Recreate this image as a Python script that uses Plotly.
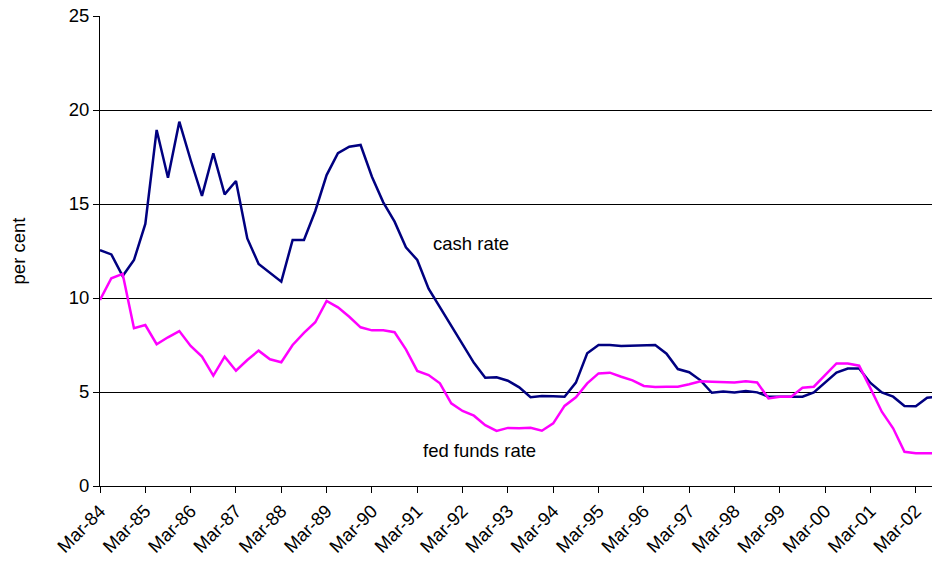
import plotly.graph_objects as go

months = ["Mar", "Jun", "Sep", "Dec"]
quarters = [f"{m}-{y % 100:02d}" for y in range(1984, 2003) for m in months][:75]

cash_rate = [
    12.55, 12.32, 11.17, 12.02, 13.94, 18.94, 16.40, 19.38, 17.34, 15.43,
    17.70, 15.51, 16.22, 13.17, 11.81, 11.35, 10.87, 13.09, 13.09, 14.63,
    16.54, 17.70, 18.05, 18.14, 16.45, 15.09, 14.06, 12.70, 12.02, 10.50,
    9.50, 8.50, 7.50, 6.55, 5.76, 5.78, 5.60, 5.25, 4.72, 4.79,
    4.77, 4.75, 5.50, 7.06, 7.50, 7.50, 7.45, 7.47, 7.50, 7.50,
    7.04, 6.22, 6.05, 5.62, 4.96, 5.02, 4.98, 5.05, 4.98, 4.75,
    4.75, 4.75, 4.75, 4.98, 5.50, 6.03, 6.25, 6.25, 5.48, 4.98,
    4.75, 4.26, 4.24, 4.70, 4.75,
]

fed_funds = [
    9.90, 11.05, 11.28, 8.39, 8.56, 7.54, 7.91, 8.24, 7.45, 6.88,
    5.87, 6.88, 6.13, 6.70, 7.20, 6.74, 6.58, 7.50, 8.15, 8.71,
    9.84, 9.50, 9.00, 8.44, 8.28, 8.28, 8.18, 7.27, 6.12, 5.90,
    5.46, 4.40, 3.99, 3.74, 3.24, 2.93, 3.09, 3.07, 3.10, 2.94,
    3.33, 4.26, 4.72, 5.46, 5.99, 6.03, 5.81, 5.62, 5.32, 5.27,
    5.28, 5.28, 5.41, 5.57, 5.55, 5.51, 5.50, 5.57, 5.51, 4.66,
    4.75, 4.75, 5.23, 5.28, 5.90, 6.52, 6.51, 6.40, 5.19, 3.95,
    3.07, 1.82, 1.74, 1.74, 1.74,
]

tick_labels = quarters[::4]
y_ticks = [0, 5, 10, 15, 20, 25]

FONT = "Liberation Sans, Arial, sans-serif"
FS = 18.5

fig = go.Figure()
fig.add_trace(go.Scatter(x=quarters, y=cash_rate, mode="lines",
                         line=dict(color="#000080", width=2.5), name="cash rate"))
fig.add_trace(go.Scatter(x=quarters, y=fed_funds, mode="lines",
                         line=dict(color="#FF00FF", width=2.5), name="fed funds rate"))

fig.add_annotation(x=32.7, y=12.9, xref="x", yref="y", text="cash rate",
                   showarrow=False, font=dict(family=FONT, size=FS, color="black"))
fig.add_annotation(x=33.5, y=1.9, xref="x", yref="y", text="fed funds rate",
                   showarrow=False, font=dict(family=FONT, size=FS, color="black"))

fig.update_layout(
    width=932, height=561,
    margin=dict(l=100, r=0, t=16, b=75),
    paper_bgcolor="white", plot_bgcolor="white",
    showlegend=False,
    font=dict(family=FONT, size=FS, color="black"),
    xaxis=dict(
        type="category",
        range=[0, 73.43],
        tickmode="array", tickvals=tick_labels, ticktext=tick_labels,
        tickangle=-45,
        ticks="outside", ticklen=6, tickcolor="black", tickwidth=1,
        showgrid=False, showline=True, linecolor="black", linewidth=1,
        zeroline=False,
        tickfont=dict(family=FONT, size=FS, color="black"),
    ),
    yaxis=dict(
        range=[0, 25],
        tickvals=y_ticks,
        ticks="outside", ticklen=6, tickcolor="black", tickwidth=1,
        showgrid=True, gridcolor="black", gridwidth=1,
        showline=True, linecolor="black", linewidth=1,
        zeroline=False,
        title=dict(text="per cent", font=dict(family=FONT, size=FS, color="black"), standoff=38),
        tickfont=dict(family=FONT, size=FS, color="black"),
    ),
)

fig.write_html("out.html",
               config={"displayModeBar": False},
               post_script="document.body.style.margin='0';document.body.style.overflow='hidden';")
